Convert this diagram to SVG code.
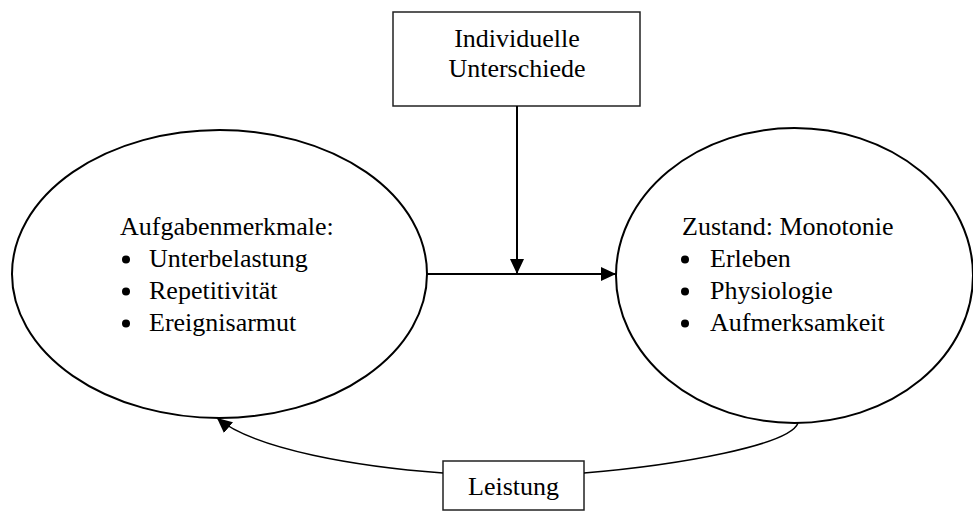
<svg xmlns="http://www.w3.org/2000/svg" width="973" height="512" viewBox="0 0 973 512">
<style>
text{font-family:"Liberation Serif","Times New Roman",serif;font-size:26px;fill:#000}
.c{text-anchor:middle}
.box{fill:#fff;stroke:#222;stroke-width:1.5}
.ell{fill:#fff;stroke:#000;stroke-width:2}
.ln{fill:none;stroke:#000;stroke-width:2}
.cv{fill:none;stroke:#000;stroke-width:1.5}
.dot{fill:#000}
</style>
<defs>
<marker id="ah" markerUnits="userSpaceOnUse" markerWidth="16" markerHeight="14" refX="15" refY="7" orient="auto">
<path d="M0,0 L15,7 L0,14 z" fill="#000"/>
</marker>
</defs>
<g id="aufgaben">
<ellipse class="ell" cx="219.5" cy="274" rx="207.5" ry="144"/>
<text x="120" y="235">Aufgabenmerkmale:</text>
<circle class="dot" cx="126" cy="259.5" r="4"/><text x="149" y="267">Unterbelastung</text>
<circle class="dot" cx="126" cy="291.5" r="4"/><text x="149" y="299">Repetitivität</text>
<circle class="dot" cx="126" cy="323.5" r="4"/><text x="149" y="331">Ereignisarmut</text>
</g>
<g id="zustand">
<ellipse class="ell" cx="794.5" cy="275.5" rx="178.5" ry="147.5"/>
<text x="682" y="235">Zustand: Monotonie</text>
<circle class="dot" cx="685" cy="259.5" r="4"/><text x="710" y="267">Erleben</text>
<circle class="dot" cx="685" cy="291.5" r="4"/><text x="710" y="299">Physiologie</text>
<circle class="dot" cx="685" cy="323.5" r="4"/><text x="710" y="331">Aufmerksamkeit</text>
</g>
<g id="individuelle">
<rect class="box" x="393" y="12" width="247" height="94"/>
<text class="c" x="517" y="47">Individuelle</text>
<text class="c" x="517" y="77">Unterschiede</text>
</g>
<g id="leistung">
<rect class="box" x="443" y="461" width="141" height="49"/>
<text class="c" x="513.5" y="495">Leistung</text>
</g>
<g id="connectors">
<line class="ln" x1="517" y1="106" x2="517" y2="274" marker-end="url(#ah)"/>
<line class="ln" x1="427" y1="274" x2="616" y2="274" marker-end="url(#ah)"/>
<path class="cv" d="M798,423 C790,445 680,465 584,473"/>
<path class="cv" d="M443,473 C360,467 255,450 217,418" marker-end="url(#ah)"/>
</g>
</svg>
